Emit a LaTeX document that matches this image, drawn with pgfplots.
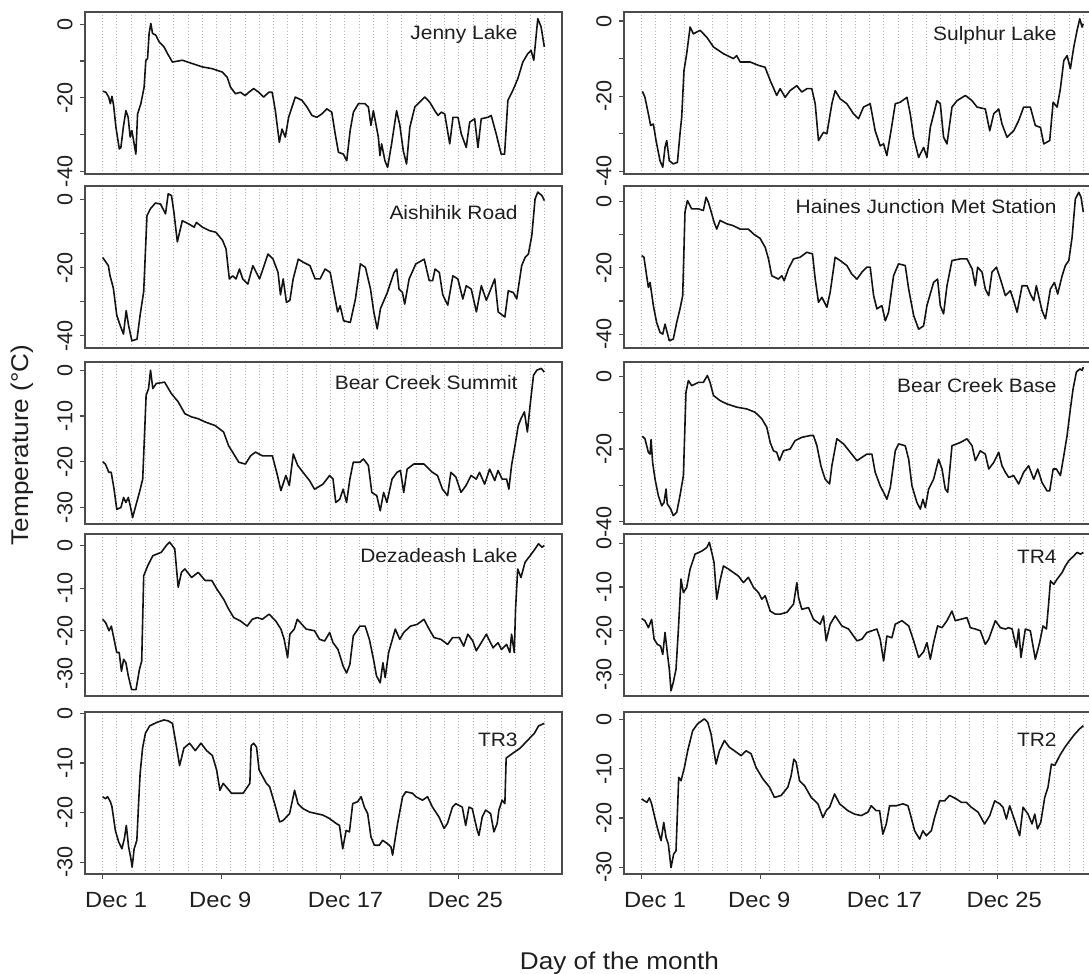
\documentclass[border=0pt]{standalone}
\usepackage{pgfplots}
\pgfplotsset{compat=1.18}
\usepackage{fontspec}
\setmainfont{Liberation Sans}[FakeStretch=1.08]
\setsansfont{Liberation Sans}[FakeStretch=1.08]
\newfontfamily\plainfont{Liberation Sans}
\newcommand{\ticksize}{\fontsize{11pt}{13pt}\selectfont}
\newcommand{\yticksize}{\plainfont\fontsize{10.8pt}{13pt}\selectfont}
\newcommand{\labsize}{\fontsize{9.7pt}{12pt}\selectfont}
\newcommand{\titlesize}{\fontsize{12.1pt}{14pt}\selectfont}
\definecolor{boxcol}{gray}{0.30}
\definecolor{gridcol}{gray}{0.70}
\definecolor{txt}{gray}{0.12}
\tikzset{lab/.style={anchor=base east, font=\labsize, text=txt, inner sep=0pt}}
\pgfplotsset{
  panel/.style={
    scale only axis, width=238.5pt, height=81pt, anchor=north west,
    xmin=-1.24, xmax=32.24,
    axis line style={draw=boxcol, line width=0.55pt},
    tick align=outside, tick pos=left,
    major tick length=2.5pt,
    tick style={draw=boxcol, line width=0.55pt},
    xtick={-5},
    xticklabels={},
    minor xtick={0,1,...,31},
    minor tick length=0pt,
    xminorgrids=true,
    minor x grid style={draw=gridcol, line width=0.45pt, dash pattern=on 0.45pt off 1.1pt},
    yticklabel style={rotate=90, anchor=south, inner sep=0pt, font=\yticksize, text=txt, yshift=3.5pt},
  },
  bottomrow/.style={
    xtick={0,8.3333,16.6667,25}, xticklabels={,,,},
    extra x ticks={0.95,8.25,17.05,25.45},
    extra x tick labels={Dec 1,Dec 9,Dec 17,Dec 25},
    extra x tick style={major tick length=0pt, grid=none,
      xticklabel style={anchor=north, inner sep=0pt, font=\ticksize, text=txt, yshift=-8.85pt}},
  },
  t40/.style={ytick={-40,-30,-20,-10,0}, yticklabels={-40,,-20,,0}},
  t30/.style={ytick={-30,-20,-10,0}, yticklabels={-30,-20,-10,0}},
  dataline/.style={black!92, line width=0.8pt, line join=round, mark=none},
}
\begin{document}
\begin{tikzpicture}
\useasboundingbox (0,0) rectangle (544.5pt,-487pt);

% Row 1 left: Jenny Lake
\begin{axis}[panel, t40, at={(42.5pt,-6pt)}, ymin=-40.7, ymax=3.3]
\addplot[dataline] coordinates {(0,-18.2)(0.23,-18.5)(0.42,-19.8)(0.54,-21.6)(0.65,-19.6)(0.77,-22.1)(0.93,-28)(1.17,-33.9)(1.28,-33.5)(1.45,-28)(1.63,-23.5)(1.79,-25.3)(1.93,-30.7)(2.05,-28.9)(2.21,-32.5)(2.33,-35.3)(2.45,-24.4)(2.68,-21.6)(2.91,-17.1)(3.03,-9.8)(3.15,-9.4)(3.26,-2.5)(3.38,0.2)(3.5,-2.5)(3.73,-3)(3.96,-4.8)(4.31,-6.2)(4.55,-8)(4.9,-10.3)(5.59,-9.8)(6.29,-10.7)(6.99,-11.6)(7.69,-12.1)(8.39,-13)(8.74,-14.4)(8.97,-17.1)(9.32,-18.9)(9.67,-18.5)(10.0,-19.4)(10.26,-18.5)(10.6,-17.5)(10.96,-18.5)(11.3,-19.8)(11.66,-18.5)(11.9,-18.5)(12.12,-23.5)(12.4,-32.1)(12.59,-28.5)(12.82,-30.7)(13.05,-25.3)(13.52,-19.8)(13.99,-20.7)(14.34,-22.5)(14.69,-24.8)(15.03,-25.3)(15.38,-24.4)(15.73,-23)(16.08,-23.9)(16.32,-29.8)(16.55,-34.8)(16.9,-35.3)(17.13,-37.1)(17.37,-28.9)(17.6,-23.9)(17.95,-21.6)(18.41,-21.6)(18.65,-22.5)(18.83,-27.5)(19.0,-23.5)(19.35,-30.7)(19.46,-35.7)(19.58,-32.5)(19.81,-37.1)(20.0,-38.9)(20.28,-32.5)(20.63,-23.5)(20.86,-27.5)(21.1,-34.4)(21.33,-38)(21.56,-28)(21.91,-22.5)(22.61,-19.8)(22.96,-21.2)(23.31,-23.5)(23.54,-24.8)(23.78,-23.9)(24.01,-24.4)(24.36,-32.5)(24.59,-25.3)(24.94,-25.3)(25.17,-29.8)(25.52,-33.5)(25.76,-26.6)(26.11,-25.7)(26.34,-33.5)(26.57,-25.7)(27.04,-25.3)(27.27,-24.8)(27.62,-29.8)(27.97,-35.3)(28.21,-35.3)(28.44,-20.7)(28.79,-18)(29.14,-14.8)(29.49,-10.3)(29.84,-8)(30.07,-7.1)(30.26,-9.8)(30.54,1.5)(30.77,-0.7)(31.0,-6.2)};
\node[lab, xshift=-22pt, yshift=-14pt] at (rel axis cs:1,1) {Jenny Lake};
\end{axis}

% Row 1 right: Sulphur Lake
\begin{axis}[panel, t40, at={(312pt,-6pt)}, ymin=-40.7, ymax=2.4]
\addplot[dataline] coordinates {(0.05,-18.7)(0.23,-20.3)(0.47,-24.7)(0.63,-27.8)(0.82,-27.4)(1.01,-31.8)(1.29,-37.2)(1.48,-38.9)(1.64,-33.6)(1.76,-31.8)(1.94,-37.2)(2.22,-38)(2.51,-37.6)(2.69,-30)(2.81,-25.6)(2.97,-13.2)(3.16,-8.7)(3.4,-1.6)(3.63,-3.4)(4.1,-2.5)(4.57,-4.3)(5.04,-6.9)(5.74,-8.7)(6.44,-10)(6.67,-9.2)(6.91,-10.9)(7.61,-10.9)(8.2,-11.8)(8.66,-12.3)(9.02,-15.8)(9.48,-19.8)(9.72,-18)(10.07,-20.3)(10.42,-18.5)(10.89,-17.2)(11.24,-18.9)(11.59,-18)(11.94,-18)(12.18,-22)(12.41,-31.8)(12.76,-29.6)(13.0,-30)(13.35,-22)(13.58,-18.5)(13.93,-20.7)(14.4,-22)(14.87,-24.7)(15.22,-26)(15.57,-22.9)(16.04,-22)(16.39,-29.2)(16.74,-33.2)(16.98,-32.7)(17.21,-35.8)(17.56,-27.8)(17.8,-22)(18.15,-21.6)(18.62,-20.3)(18.85,-24.7)(19.09,-30.9)(19.44,-36.3)(19.79,-33.6)(20.02,-36.3)(20.26,-28.3)(20.73,-21.2)(20.96,-22)(21.19,-30.9)(21.43,-32.7)(21.78,-22.9)(22.13,-21.2)(22.72,-19.8)(23.19,-21.2)(23.54,-22.9)(24.12,-23.4)(24.43,-29.2)(24.71,-24.7)(25.06,-23.4)(25.29,-27.4)(25.64,-30.9)(26.11,-29.2)(26.46,-26.5)(26.81,-22.9)(27.28,-22.9)(27.63,-27.8)(27.99,-28.3)(28.22,-32.7)(28.64,-31.8)(28.88,-21.6)(29.16,-22.9)(29.39,-18)(29.63,-10.5)(29.86,-9.2)(30.09,-12.7)(30.33,-6.9)(30.56,-2.5)(30.75,0.6)(30.91,-1.6)(31.0,-0.7)};
\node[lab, xshift=-22pt, yshift=-14.5pt] at (rel axis cs:1,1) {Sulphur Lake};
\end{axis}

% Row 2 left: Aishihik Road
\begin{axis}[panel, t40, at={(42.5pt,-93pt)}, ymin=-43.6, ymax=4.0]
\addplot[dataline] coordinates {(0,-17)(0.4,-19.4)(0.52,-22.4)(0.75,-26)(0.99,-34)(1.23,-37)(1.46,-39.5)(1.65,-32.6)(1.82,-37)(2.05,-41.5)(2.41,-41)(2.64,-33.6)(2.88,-27)(3.11,-4.7)(3.35,-2.7)(3.7,-1)(4.06,-1.3)(4.41,-4.2)(4.6,1.7)(4.83,1.2)(5.0,-3.7)(5.24,-12.4)(5.59,-6.2)(6.06,-7.2)(6.42,-8.1)(6.58,-6.7)(7.0,-8.1)(7.48,-9.1)(7.95,-9.6)(8.42,-12)(8.66,-14.5)(8.89,-23.3)(9.13,-22.4)(9.36,-23.3)(9.6,-20.4)(9.83,-23.3)(10.19,-24.8)(10.54,-19.4)(10.78,-21.4)(11.01,-23.3)(11.25,-20.4)(11.6,-16)(11.96,-17.5)(12.31,-21.4)(12.48,-28)(12.67,-23.3)(12.9,-30.2)(13.14,-29.6)(13.37,-23.3)(13.73,-17.5)(14.08,-18.4)(14.55,-19.4)(14.91,-23.3)(15.26,-23.3)(15.61,-20.4)(15.97,-21.4)(16.32,-29.2)(16.49,-33)(16.67,-31.2)(16.91,-35.6)(17.38,-36.1)(17.74,-29.2)(18.09,-18.9)(18.44,-19.9)(18.8,-26.3)(19.03,-33)(19.27,-38)(19.5,-32)(19.98,-27.3)(20.45,-21.4)(20.64,-20.4)(20.8,-26.3)(21.04,-27.3)(21.2,-30.7)(21.51,-23.3)(21.98,-18.9)(22.57,-17.5)(22.92,-23.8)(23.16,-23.8)(23.33,-20.4)(23.63,-21.4)(23.87,-28)(24.22,-31)(24.58,-22.4)(24.93,-23.3)(25.28,-29.2)(25.52,-25.3)(25.87,-26.3)(26.23,-33)(26.58,-25.3)(26.93,-29.6)(27.24,-26.3)(27.52,-23.3)(27.76,-33)(28.23,-34.5)(28.47,-26.8)(28.82,-27.3)(29.06,-29.2)(29.41,-19.4)(29.65,-17)(29.88,-16)(30.12,-10.6)(30.35,0.2)(30.54,2.2)(30.83,1.2)(31.0,-0.3)};
\node[lab, xshift=-22pt, yshift=-16.5pt] at (rel axis cs:1,1) {Aishihik Road};
\end{axis}

% Row 2 right: Haines Junction Met Station
\begin{axis}[panel, t40, at={(312pt,-93pt)}, ymin=-44.2, ymax=4.7]
\addplot[dataline] coordinates {(0,-16.3)(0.16,-16.8)(0.35,-22.4)(0.47,-25.9)(0.59,-24.4)(0.82,-31.4)(1.05,-36.5)(1.29,-39.5)(1.48,-40)(1.64,-37)(1.76,-39)(1.94,-42)(2.22,-41.5)(2.46,-36.5)(2.69,-32.4)(2.88,-28.4)(3.04,-3.2)(3.21,0.3)(3.51,-2.2)(3.98,-2.2)(4.33,-2.7)(4.52,1.3)(4.68,-0.2)(4.92,-3.7)(5.08,-6.2)(5.27,-8.3)(5.5,-5.7)(5.97,-6.7)(6.44,-7.3)(6.91,-8.3)(7.49,-8.3)(7.85,-9.8)(8.31,-11.1)(8.67,-13.8)(8.9,-17.3)(9.13,-22.4)(9.37,-22.9)(9.6,-23.4)(9.84,-22.4)(10.0,-23.9)(10.3,-20.3)(10.66,-17.3)(11.12,-16.8)(11.59,-15.3)(11.99,-15.8)(12.18,-23.4)(12.41,-30.4)(12.65,-28.9)(13.0,-31.9)(13.23,-27.4)(13.58,-16.8)(13.93,-17.8)(14.4,-19.3)(14.75,-21.9)(15.11,-23.4)(15.46,-21.3)(15.81,-19.8)(16.04,-19.8)(16.28,-28.4)(16.51,-32.4)(16.86,-31.4)(17.1,-36)(17.33,-33.4)(17.68,-22.4)(18.03,-18.8)(18.5,-19.3)(18.74,-26.4)(19.09,-34.4)(19.44,-38.5)(19.79,-37.5)(20.02,-31.4)(20.49,-24.4)(20.77,-23.4)(20.96,-31.4)(21.19,-33.9)(21.43,-25.4)(21.78,-17.8)(22.37,-17.3)(22.83,-17.3)(23.19,-20.3)(23.42,-25.4)(23.58,-19.8)(23.89,-21.3)(24.12,-26.4)(24.36,-28.4)(24.59,-21.3)(24.9,-19.8)(25.18,-23.4)(25.53,-28.4)(25.88,-26.9)(26.11,-29.9)(26.35,-33.4)(26.7,-25.4)(27.05,-25.4)(27.28,-27.9)(27.52,-29.9)(27.7,-25.4)(28.1,-32.9)(28.34,-35.4)(28.69,-26.4)(28.97,-24.4)(29.2,-27.9)(29.51,-22.4)(29.74,-19.3)(29.98,-17.8)(30.21,-10.8)(30.44,0.8)(30.68,2.8)(30.84,1.3)(31.0,-3.2)};
\node[lab, xshift=-22pt, yshift=-13.5pt] at (rel axis cs:1,1) {Haines Junction Met Station};
\end{axis}

% Row 3 left: Bear Creek Summit
\begin{axis}[panel, t30, at={(42.5pt,-181pt)}, ymin=-33.6, ymax=1.8]
\addplot[dataline] coordinates {(0,-20)(0.19,-20.5)(0.43,-22.3)(0.6,-22.3)(0.8,-26)(0.99,-30.4)(1.28,-30)(1.47,-27.8)(1.63,-28.9)(1.8,-27.8)(1.99,-30.4)(2.1,-32.2)(2.29,-30)(2.58,-26.7)(2.81,-23.8)(3.05,-5.5)(3.22,-4)(3.36,0)(3.52,-4)(3.76,-2.9)(4.35,-2.6)(4.82,-5.1)(5.3,-6.9)(5.77,-9.5)(6.24,-10.2)(6.71,-10.6)(7.19,-11.3)(7.9,-12.1)(8.49,-13.5)(8.84,-16.5)(9.2,-18.3)(9.55,-20.1)(10.02,-20.5)(10.38,-18.7)(10.73,-17.9)(11.21,-18.7)(11.91,-18.7)(12.27,-23)(12.51,-26.3)(12.86,-23)(13.1,-25.2)(13.38,-18.3)(13.69,-20.8)(14.16,-22.7)(14.52,-24.1)(14.87,-26)(15.46,-24.9)(15.93,-23)(16.17,-23.8)(16.36,-28.9)(16.64,-28.2)(16.88,-26)(17.12,-28.9)(17.35,-23.8)(17.59,-20.1)(18.06,-20.1)(18.3,-19.4)(18.65,-20.8)(18.89,-26.7)(19.24,-27.4)(19.48,-30.7)(19.72,-26.7)(19.95,-28.9)(20.31,-23.8)(20.66,-22.3)(20.9,-21.9)(21.13,-26.7)(21.37,-21.6)(21.84,-20.5)(22.55,-20.5)(23.14,-22.3)(23.5,-23)(23.85,-26)(24.21,-27.4)(24.44,-22.3)(24.8,-23.4)(25.15,-26.7)(25.5,-25.2)(25.86,-23)(26.22,-23.8)(26.45,-22.3)(26.81,-24.9)(27.16,-21.6)(27.52,-24.1)(27.75,-21.9)(28.04,-23.8)(28.35,-23.8)(28.51,-26)(28.7,-20.8)(28.94,-16.5)(29.17,-12.1)(29.36,-10.6)(29.6,-9.1)(29.81,-13.5)(30.0,-7.7)(30.24,-1.1)(30.47,0)(30.78,0.4)(31.0,-0.4)};
\node[lab, xshift=-22pt, yshift=-14pt] at (rel axis cs:1,1) {Bear Creek Summit};
\end{axis}

% Row 3 right: Bear Creek Base
\begin{axis}[panel, t40, at={(312pt,-181pt)}, ymin=-40.6, ymax=3.9]
\addplot[dataline] coordinates {(0.05,-16.5)(0.23,-17.2)(0.47,-20.9)(0.59,-21.4)(0.66,-17.4)(0.77,-23.7)(0.94,-28.3)(1.17,-32.8)(1.41,-35.6)(1.57,-34.7)(1.71,-31)(1.8,-35.1)(2.04,-36.5)(2.22,-38.3)(2.46,-37.4)(2.69,-32.8)(2.93,-27.3)(3.11,-4.4)(3.28,-1.2)(3.51,-2.6)(3.98,-1.7)(4.33,-1.7)(4.61,0.2)(4.8,-1.7)(5.04,-5.3)(5.5,-6.7)(5.97,-7.6)(6.67,-8.5)(7.38,-9)(7.96,-9.9)(8.43,-11.7)(8.78,-14)(9.02,-18.2)(9.25,-20.5)(9.48,-20.9)(9.67,-23.2)(9.95,-20.5)(10.42,-20)(10.77,-17.7)(11.24,-16.8)(11.83,-16.3)(12.06,-16.3)(12.3,-19.1)(12.58,-24.6)(12.72,-26.4)(12.88,-28.3)(13.19,-29.6)(13.35,-24.6)(13.7,-17.2)(14.17,-18.6)(14.64,-20.9)(15.11,-23.2)(15.46,-22.3)(15.81,-21.4)(16.16,-21.4)(16.39,-26.4)(16.74,-30.1)(16.98,-31.9)(17.21,-33.8)(17.45,-30.6)(17.8,-20.5)(18.03,-18.6)(18.5,-19.1)(18.74,-22.8)(18.97,-30.1)(19.32,-34.7)(19.56,-36.5)(19.74,-33.8)(19.91,-36.1)(20.14,-31)(20.49,-28.3)(20.84,-22.8)(21.08,-25.5)(21.31,-31)(21.48,-31.9)(21.78,-19.1)(22.37,-18.2)(22.83,-17.2)(23.19,-19.1)(23.42,-23.2)(23.77,-20.5)(24.12,-21.4)(24.36,-25.5)(24.71,-23.7)(25.06,-20.9)(25.29,-24.6)(25.53,-26.4)(25.76,-27.8)(26.11,-27.3)(26.46,-29.6)(26.81,-26.4)(27.16,-24.6)(27.52,-28.3)(27.8,-25.5)(28.1,-29.2)(28.45,-31.5)(28.64,-31.5)(28.88,-25.5)(29.11,-25.5)(29.39,-27.3)(29.63,-21.8)(29.86,-16.3)(30.09,-9)(30.28,-3.5)(30.51,1.1)(30.75,2)(30.91,1.6)(31.0,2.5)};
\node[lab, xshift=-22pt, yshift=-15pt] at (rel axis cs:1,1) {Bear Creek Base};
\end{axis}

% Row 4 left: Dezadeash Lake
\begin{axis}[panel, t30, at={(42.5pt,-267pt)}, ymin=-35.3, ymax=2.7]
\addplot[dataline] coordinates {(0,-17.3)(0.21,-18.1)(0.45,-20)(0.61,-18.9)(0.8,-22)(0.99,-25.1)(1.16,-25.1)(1.32,-29.5)(1.47,-26.7)(1.63,-27.5)(1.8,-30.6)(2.03,-33.8)(2.34,-33.8)(2.58,-29.1)(2.74,-27.1)(2.88,-7.1)(3.17,-4.7)(3.52,-2.4)(4.11,-1.6)(4.47,0)(4.7,0.8)(5.06,-0.8)(5.3,-9.8)(5.53,-6.3)(5.77,-5.5)(6.24,-7.5)(6.71,-6.3)(7.19,-8.2)(7.66,-8.2)(8.01,-10.2)(8.49,-12.6)(8.84,-14.9)(9.2,-16.9)(9.67,-17.7)(10.14,-18.9)(10.5,-17.3)(10.85,-16.9)(11.21,-17.3)(11.68,-16.1)(12.15,-17.7)(12.51,-19.6)(12.74,-22)(12.98,-26.3)(13.14,-20.8)(13.45,-19.6)(13.66,-17.3)(14.28,-19.6)(14.87,-20)(15.22,-22)(15.58,-22.4)(15.93,-20.4)(16.17,-22.8)(16.52,-24.4)(16.88,-28.3)(17.12,-29.9)(17.35,-27.9)(17.59,-21.2)(18.06,-18.9)(18.42,-18.9)(18.72,-22)(19.01,-26.7)(19.22,-30.6)(19.48,-32.2)(19.67,-27.5)(19.83,-31)(20.07,-25.1)(20.54,-19.6)(20.85,-22)(21.13,-20.4)(21.61,-18.9)(22.08,-18.5)(22.55,-17.3)(22.91,-19.6)(23.26,-21.6)(23.74,-22)(24.21,-23.2)(24.56,-21.6)(25.04,-21.6)(25.34,-23.6)(25.63,-20.8)(25.98,-22.4)(26.22,-24.7)(26.57,-22.8)(26.93,-20.8)(27.4,-24)(27.75,-22.8)(27.99,-24.4)(28.35,-23.2)(28.58,-25.1)(28.7,-20.8)(28.89,-25.1)(28.98,-14.9)(29.13,-5.5)(29.36,-7.5)(29.65,-3.9)(30.0,-2.4)(30.35,-0.8)(30.59,0.4)(30.83,-0.4)(31.0,0)};
\node[lab, xshift=-22pt, yshift=-14pt] at (rel axis cs:1,1) {Dezadeash Lake};
\end{axis}

% Row 4 right: TR4
\begin{axis}[panel, t30, at={(312pt,-267pt)}, ymin=-34.9, ymax=2.1]
\addplot[dataline] coordinates {(0,-17.2)(0.23,-17.7)(0.47,-19.3)(0.7,-17.4)(0.87,-21.9)(1.1,-23.1)(1.33,-23.5)(1.48,-25.4)(1.64,-20.4)(1.8,-25)(1.94,-28.8)(2.06,-33.7)(2.22,-31.8)(2.41,-28.8)(2.58,-19.6)(2.76,-8.2)(2.93,-11.3)(3.16,-10.1)(3.4,-5.9)(3.75,-2.5)(4.22,-1.8)(4.57,-1)(4.75,0.2)(4.92,-2.1)(5.08,-4.4)(5.27,-12.8)(5.5,-8.6)(5.74,-5.2)(6.09,-5.9)(6.44,-6.7)(6.79,-7.5)(7.14,-9)(7.49,-7.8)(7.85,-10.1)(8.2,-11.3)(8.43,-12.8)(8.67,-12)(9.02,-15.5)(9.37,-16.2)(9.72,-16.2)(10.19,-15.8)(10.66,-13.9)(10.89,-9)(11.01,-12.4)(11.24,-15.1)(11.71,-14.7)(12.06,-17.4)(12.53,-18.5)(12.76,-16.6)(12.95,-22.3)(13.23,-18.5)(13.58,-16.6)(14.05,-18.9)(14.52,-19.6)(15.11,-22.3)(15.46,-21.9)(15.81,-20.4)(16.16,-20)(16.51,-19.6)(16.74,-21.9)(16.98,-26.9)(17.21,-21.2)(17.56,-21.6)(17.8,-18.5)(18.27,-17.7)(18.74,-18.9)(19.09,-22.3)(19.44,-26.1)(19.79,-24.8)(20.02,-22.7)(20.26,-26.5)(20.49,-22.7)(20.77,-18.9)(21.08,-19.3)(21.43,-17.7)(21.78,-15.5)(22.01,-17.7)(22.37,-17.4)(22.83,-17)(23.07,-19.3)(23.42,-19.6)(23.77,-20)(24.12,-23.1)(24.36,-21.9)(24.82,-17.7)(25.18,-19.3)(25.53,-19.6)(25.76,-19.3)(26.0,-19.6)(26.3,-23.8)(26.46,-19.6)(26.62,-26.1)(26.93,-19.6)(27.28,-20)(27.63,-26.5)(27.93,-22.7)(28.17,-18.9)(28.41,-19.6)(28.57,-13.6)(28.69,-8.6)(28.92,-9.4)(29.16,-8.2)(29.51,-6.7)(29.74,-5.2)(29.98,-4)(30.33,-2.9)(30.56,-2.1)(30.8,-2.5)(31.0,-2.1)};
\node[lab, xshift=-22pt, yshift=-14.5pt] at (rel axis cs:1,1) {TR4};
\end{axis}

% Row 5 left: TR3
\begin{axis}[panel, t30, bottomrow, at={(42.5pt,-356pt)}, ymin=-32.4, ymax=0.3]
\addplot[dataline] coordinates {(0,-16.8)(0.19,-17.2)(0.35,-16.8)(0.54,-17.8)(0.65,-18.8)(0.89,-23.6)(1.12,-25.9)(1.35,-27.3)(1.52,-25.3)(1.66,-22.6)(1.82,-26.9)(1.98,-29.3)(2.07,-31)(2.21,-27.3)(2.4,-25.6)(2.52,-18.2)(2.63,-12.1)(2.8,-7)(3.0,-4)(3.3,-2.5)(3.8,-1.8)(4.3,-1.3)(4.6,-1.5)(4.9,-2)(5.2,-7)(5.4,-10.5)(5.7,-7)(6.1,-6)(6.5,-7.5)(6.9,-6)(7.3,-7.5)(7.7,-8.5)(8.0,-11.4)(8.23,-15.5)(8.46,-14.1)(9.04,-16.1)(9.86,-16.1)(10.33,-14.1)(10.42,-6.5)(10.6,-6)(10.8,-6.8)(10.98,-11.4)(11.49,-14.1)(11.72,-14.8)(12.07,-18.2)(12.42,-21.9)(12.66,-21.6)(13.12,-20.2)(13.47,-15.5)(13.71,-18.2)(14.06,-19.2)(14.52,-19.9)(14.99,-20.2)(15.45,-20.5)(15.92,-21.2)(16.39,-22.2)(16.62,-22.6)(16.85,-27.3)(17.09,-23.6)(17.32,-23.9)(17.55,-18.2)(17.9,-17.8)(18.14,-16.8)(18.37,-18.9)(18.6,-20.2)(18.83,-24.9)(19.07,-26.6)(19.42,-26.6)(19.65,-25.6)(20.0,-26.3)(20.23,-26.9)(20.35,-28.6)(20.7,-22.2)(21.05,-16.8)(21.28,-15.8)(21.75,-16.1)(21.98,-16.8)(22.45,-17.5)(22.8,-16.8)(23.15,-18.9)(23.61,-20.9)(23.96,-23.2)(24.2,-22.2)(24.55,-18.9)(24.78,-18.2)(25.24,-18.9)(25.48,-22.6)(25.71,-18.9)(25.94,-19.2)(26.29,-23.6)(26.41,-24.6)(26.64,-20.9)(26.88,-19.5)(27.23,-20.2)(27.46,-23.9)(27.69,-22.2)(27.81,-19.5)(28.04,-17.5)(28.23,-18.2)(28.32,-9)(28.8,-8)(29.3,-7)(29.8,-5.5)(30.3,-4)(30.6,-2.5)(31.0,-2)};
\node[lab, xshift=-22pt, yshift=-17pt] at (rel axis cs:1,1) {TR3};
\end{axis}

% Row 5 right: TR2
\begin{axis}[panel, t30, bottomrow, at={(312pt,-356pt)}, ymin=-31.4, ymax=1.6]
\addplot[dataline] coordinates {(0,-16.1)(0.19,-16.5)(0.37,-16.8)(0.54,-15.9)(0.7,-17.1)(0.89,-19.5)(1.12,-22.2)(1.36,-24.6)(1.55,-20.9)(1.71,-23.9)(1.87,-25.3)(2.06,-30.1)(2.25,-27.3)(2.41,-26.7)(2.6,-11.7)(2.76,-12.4)(3.0,-9.7)(3.23,-6.3)(3.58,-2.2)(3.93,-0.8)(4.4,0.2)(4.64,-0.5)(4.87,-2.9)(5.22,-9)(5.46,-6.3)(5.81,-4.2)(6.16,-5.6)(6.51,-6.3)(6.98,-7.3)(7.33,-6.3)(7.68,-6.9)(8.03,-9.7)(8.5,-12)(8.97,-13.7)(9.32,-15.8)(9.79,-15.4)(10.26,-13.7)(10.49,-11.4)(10.68,-8)(10.84,-8.6)(11.08,-12.4)(11.43,-13.4)(11.9,-15.8)(12.37,-17.1)(12.72,-19.9)(12.95,-18.5)(13.19,-17.8)(13.54,-15.1)(13.89,-17.1)(14.47,-18.5)(14.94,-19.2)(15.41,-19.5)(15.88,-18.8)(16.11,-17.5)(16.46,-18.5)(16.7,-18.5)(16.93,-23.3)(17.17,-21.2)(17.4,-17.5)(17.87,-17.5)(18.34,-17.1)(18.69,-17.5)(18.92,-19.9)(19.16,-22.6)(19.51,-24.3)(19.74,-22.6)(19.98,-23.6)(20.33,-22.6)(20.56,-19.9)(20.91,-16.5)(21.26,-16.5)(21.61,-15.4)(22.08,-16.1)(22.44,-16.8)(22.79,-16.8)(23.14,-17.8)(23.61,-18.8)(24.07,-21.2)(24.43,-19.5)(24.78,-16.5)(25.13,-17.1)(25.36,-17.8)(25.6,-20.2)(25.83,-17.5)(26.18,-20.5)(26.53,-23.6)(26.77,-17.8)(27.12,-19.2)(27.4,-21.2)(27.59,-19.2)(27.78,-22.2)(28.01,-20.9)(28.29,-15.8)(28.52,-13.7)(28.76,-9)(28.99,-9.3)(29.34,-7.3)(29.7,-5.6)(30.05,-4.2)(30.4,-2.9)(30.75,-1.8)(31.0,-1.2)};
\node[lab, xshift=-22pt, yshift=-17pt] at (rel axis cs:1,1) {TR2};
\end{axis}

\node[rotate=90, font=\titlesize, text=txt] at (11pt,-222.5pt) {Temperature (°C)};
\node[anchor=base, font=\titlesize, text=txt] at (309.75pt,-484.5pt) {Day of the month};
\end{tikzpicture}
\end{document}
